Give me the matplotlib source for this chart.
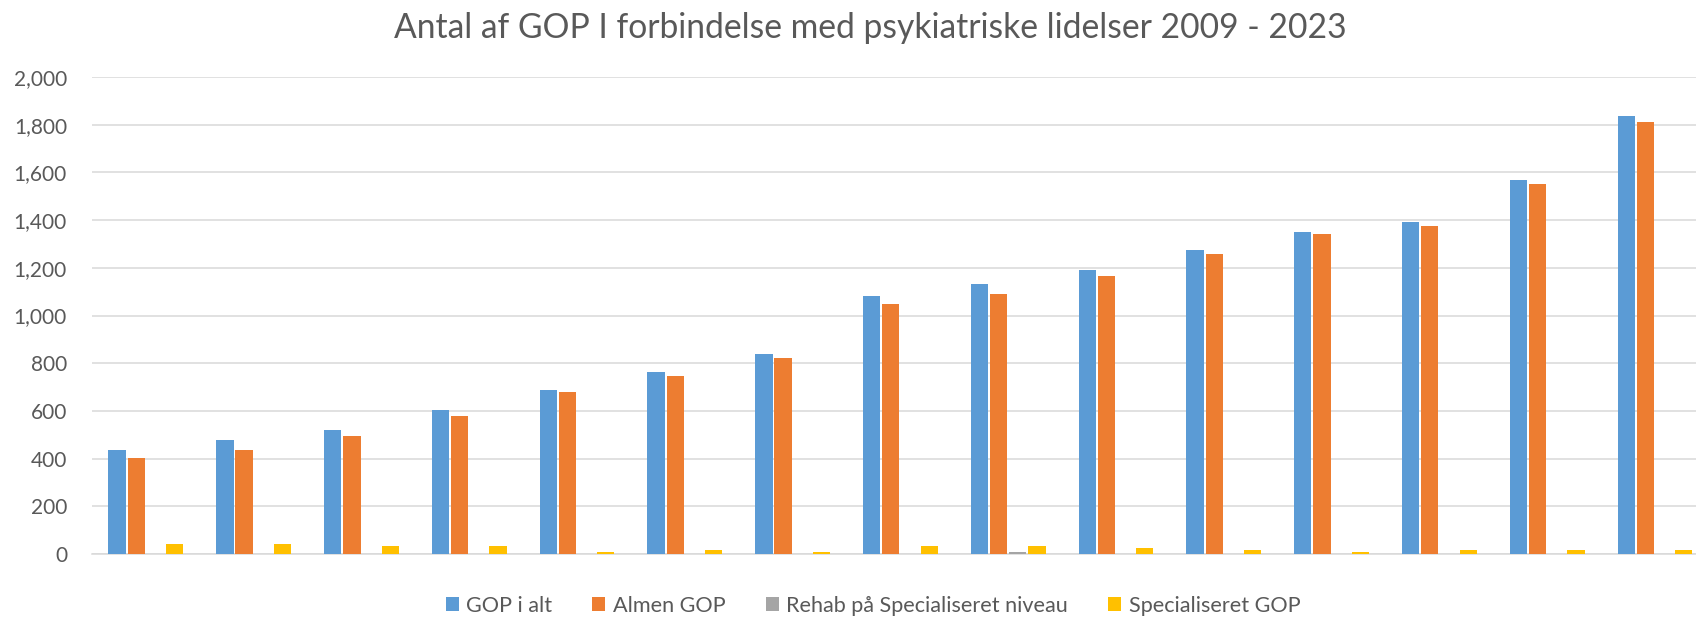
import numpy as np
import matplotlib.pyplot as plt
from matplotlib.patches import Patch

plt.rcParams['font.family'] = ['Lato', 'DejaVu Sans']

years = list(range(2009, 2024))
gop_i_alt = [437, 478, 520, 603, 688, 763, 838, 1080, 1133, 1192, 1273, 1351, 1392, 1570, 1838]
almen_gop = [403, 435, 495, 580, 680, 745, 822, 1047, 1090, 1165, 1257, 1342, 1375, 1552, 1811]
rehab = [0, 0, 0, 0, 0, 0, 0, 0, 8, 0, 0, 0, 0, 0, 0]
specialiseret = [42, 42, 34, 34, 8, 17, 8, 34, 34, 25, 17, 8, 17, 17, 17]

series = [
    ("GOP i alt", gop_i_alt, "#5B9BD5"),
    ("Almen GOP", almen_gop, "#ED7D31"),
    ("Rehab på Specialiseret niveau", rehab, "#A5A5A5"),
    ("Specialiseret GOP", specialiseret, "#FFC000"),
]

text_col = "#595959"
grid_col = "#D9D9D9"

fig = plt.figure(figsize=(16.96, 6.18), dpi=100)
ax = fig.add_axes([92 / 1696, 64 / 618, (1696 - 92) / 1696, 477 / 618])

x = np.arange(len(years))
step = 0.178
width = 0.16
for k, (name, vals, col) in enumerate(series):
    ax.bar(x + (k - 1.5) * step, vals, width=width, color=col, label=name, zorder=3)

ax.set_xlim(-0.5, 14.38)
ax.set_ylim(0, 2000)
ax.set_yticks(np.arange(0, 2001, 200))
ax.set_yticklabels([f"{v:,}" for v in range(0, 2001, 200)])
ax.set_xticks([])
ax.tick_params(axis='y', length=0, pad=18, labelsize=15, labelcolor=text_col)
ax.grid(axis='y', color=grid_col, linewidth=1.1, zorder=0)
for s in ['top', 'right', 'left']:
    ax.spines[s].set_visible(False)
ax.spines['bottom'].set_color(grid_col)
ax.spines['bottom'].set_linewidth(1.1)

fig.text(870 / 1696, 1 - 37.5 / 618, "Antal af GOP I forbindelse med psykiatriske lidelser 2009 - 2023",
         ha='center', va='baseline', fontsize=24.2, color=text_col)

handles = [Patch(facecolor=c, edgecolor='none') for _, _, c in series]
labels = [n for n, _, _ in series]
fig.legend(handles, labels, loc='center', bbox_to_anchor=(873 / 1696, 1 - 606 / 618), ncol=4,
           frameon=False, fontsize=15.6, labelcolor=text_col, handlelength=0.6, handleheight=0.6,
           handletextpad=0.35, columnspacing=1.85)

fig.savefig("out.png", dpi=100)
